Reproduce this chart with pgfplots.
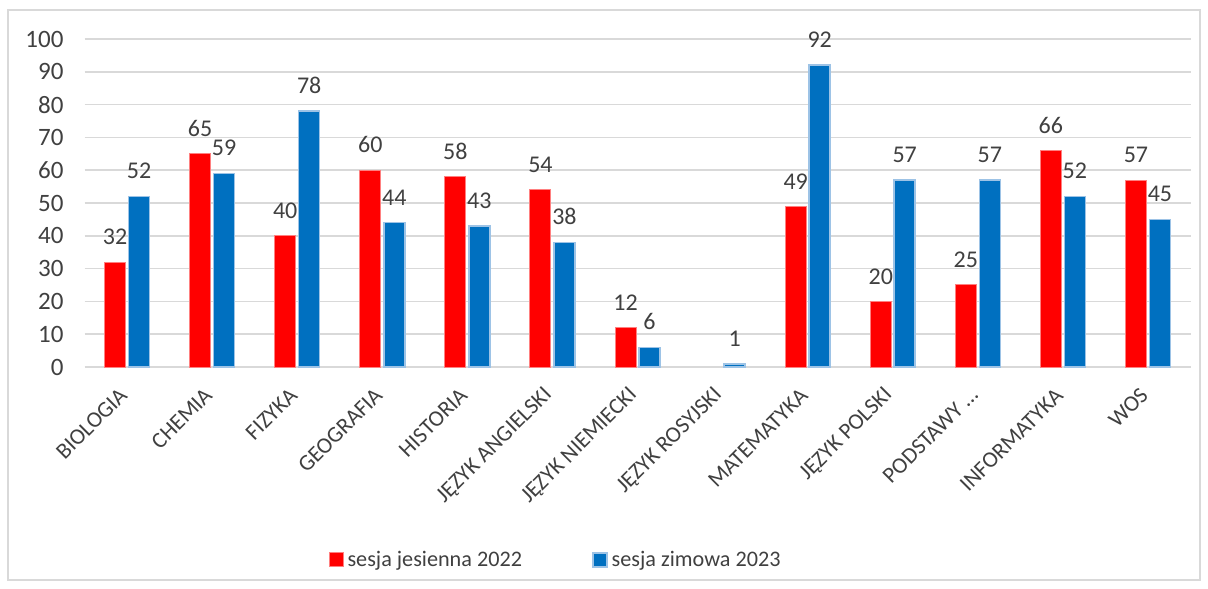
\documentclass[border=0pt]{standalone}
\usepackage{fontspec}
\setmainfont{Carlito}
\usepackage{pgfplots}
\pgfplotsset{compat=1.18}
\definecolor{redbar}{HTML}{FF0000}
\definecolor{rededge}{HTML}{FF8080}
\definecolor{bluebar}{HTML}{0070C0}
\definecolor{blueedge}{HTML}{9DC3E6}
\definecolor{gridc}{HTML}{D9D9D9}
\definecolor{txt}{HTML}{404040}
\begin{document}
\begin{tikzpicture}
\path[use as bounding box] (-42.25pt,-110.5pt) rectangle (561.75pt,183.5pt);
\draw[gridc, line width=0.6pt] (-38.25pt,-106.5pt) rectangle (557.75pt,178.5pt);
\begin{axis}[
  width=553pt, height=164pt, scale only axis,
  ybar=1.5pt, bar width=10.5pt,
  xmin=-0.5, xmax=12.5, ymin=0, ymax=100,
  xtick={0,...,12},
  xticklabels={BIOLOGIA,CHEMIA,FIZYKA,GEOGRAFIA,HISTORIA,JĘZYK ANGIELSKI,JĘZYK NIEMIECKI,JĘZYK ROSYJSKI,MATEMATYKA,JĘZYK POLSKI,PODSTAWY …,INFORMATYKA,WOS},
  ytick={0,10,...,100},
  ymajorgrids, grid style={gridc, line width=0.8pt},
  axis line style={draw=none},
  major tick length=0pt,
  tick label style={text=txt},
  yticklabel style={font=\fontsize{12.5}{14}\selectfont, xshift=-7pt},
  /pgf/number format/assume math mode=true,
  xticklabel style={font=\fontsize{11.3}{13}\selectfont, xshift=0.6pt, yshift=-9.9pt, rotate=45, anchor=east},
  nodes near coords,
  nodes near coords style={font=\fontsize{12}{14}\selectfont, text=txt, anchor=south, yshift=5pt},
  legend style={draw=none, at={(0.4268,-0.588)}, anchor=center, legend columns=2,
    font=\fontsize{11.1}{13}\selectfont, text=txt,
    /tikz/every even column/.append style={column sep=33pt}},
  legend image code/.code={\draw[#1] (0pt,-3.5pt) rectangle (7pt,3.5pt);},
]
\addplot[fill=redbar, draw=rededge, line width=0.5pt] coordinates {
 (0,32) (1,65) (2,40) (3,60) (4,58) (5,54) (6,12) (8,49) (9,20) (10,25) (11,66) (12,57)};
\addplot[fill=bluebar, draw=blueedge, line width=0.8pt] coordinates {
 (0,52) (1,59) (2,78) (3,44) (4,43) (5,38) (6,6) (7,1) (8,92) (9,57) (10,57) (11,52) (12,45)};
\legend{sesja jesienna 2022, sesja zimowa 2023}
\end{axis}
\end{tikzpicture}
\end{document}
